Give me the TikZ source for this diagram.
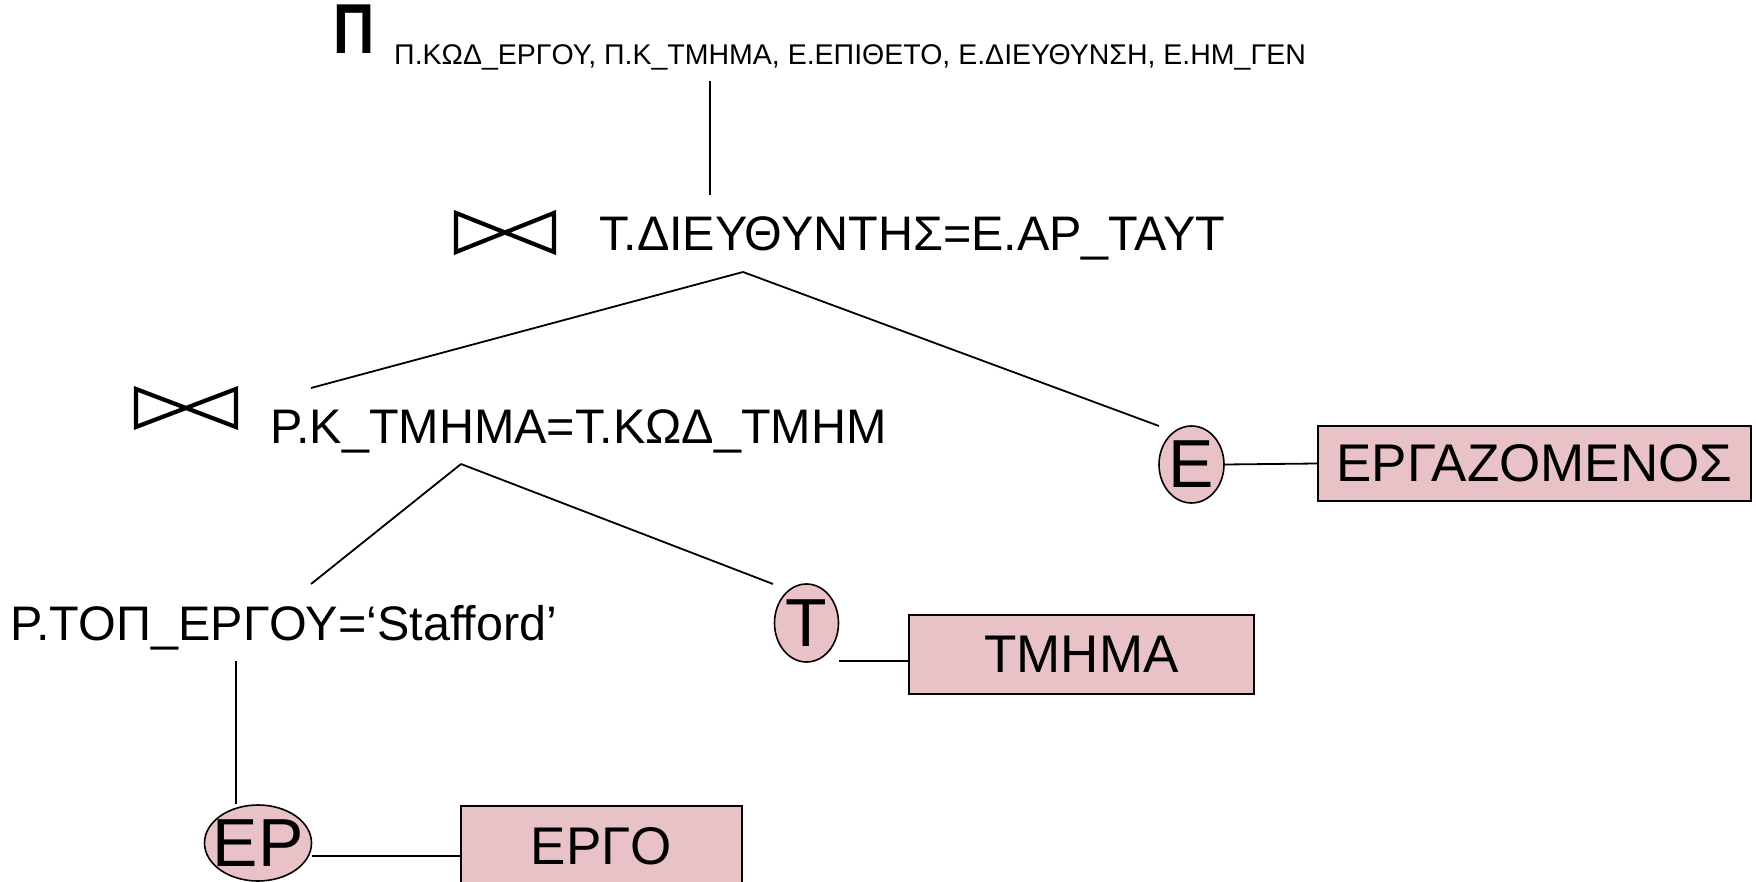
\documentclass[tikz,border=0pt]{standalone}
\usepackage{fontspec}
\setmainfont{Liberation Sans}
\usetikzlibrary{shapes.geometric}
\definecolor{relfill}{RGB}{232,194,198}
\tikzset{
  link/.style={line width=1.8pt},
  bowtie/.style={line width=4.2pt, line join=miter},
  optext/.style={inner sep=0pt, anchor=base west, font=\fontsize{48.5}{56}\selectfont},
  alias/.style={draw, ellipse, fill=relfill, line width=1.6pt, inner sep=0pt,
                inner xsep=-40pt, inner ysep=-20pt,
                font=\fontsize{68}{70}\selectfont},
  relbox/.style={draw, rectangle, fill=relfill, line width=2pt, inner sep=0pt,
                 font=\fontsize{53}{60}\selectfont}
}
\begin{document}
\begin{tikzpicture}[x=1pt,y=-1pt]
\useasboundingbox (0,0) rectangle (1756,882);

% projection
\node[inner sep=0pt, anchor=base west, font=\bfseries\fontsize{62}{64}\selectfont] (pi) at (333,54)
  {\scalebox{0.92}[1.14]{Π}};
\node[inner sep=0pt, anchor=base west, font=\fontsize{28.5}{30}\selectfont] (proj) at (394,65)
  {Π.ΚΩΔ\_ΕΡΓΟΥ, Π.Κ\_ΤΜΗΜΑ, Ε.ΕΠΙΘΕΤΟ, Ε.ΔΙΕΥΘΥΝΣΗ, Ε.ΗΜ\_ΓΕΝ};

% first join
\draw[bowtie] (456,213) -- (554,252) -- (554,213) -- (456,252) -- cycle;
\node[optext] (join1) at (599,251) {Τ.ΔΙΕΥΘΥΝΤΗΣ=Ε.ΑΡ\_ΤΑΥΤ};

% second join
\draw[bowtie] (136,389) -- (236,427) -- (236,389) -- (136,427) -- cycle;
\node[optext] (join2) at (270,443) {Ρ.Κ\_ΤΜΗΜΑ=Τ.ΚΩΔ\_ΤΜΗΜ};

% selection
\node[optext] (sel) at (10,640) {Ρ.ΤΟΠ\_ΕΡΓΟΥ=‘Stafford’};

% relation aliases
\node[alias, minimum width=65pt, minimum height=77pt] (e) at (1191.5,464.5) {Ε};
\node[alias, minimum width=64pt, minimum height=78pt] (t) at (806.5,623) {Τ};
\node[alias, minimum width=107pt, minimum height=76pt] (ep) at (258,843) {ΕΡ};

% base relations
\node[relbox, minimum width=433pt, minimum height=75pt] (emp) at (1534.5,463.5) {ΕΡΓΑΖΟΜΕΝΟΣ};
\node[relbox, minimum width=345pt, minimum height=79pt] (dep) at (1081.5,654.5) {ΤΜΗΜΑ};
\node[relbox, minimum width=281pt, minimum height=80pt] (prj) at (601.5,846) {ΕΡΓΟ};

% connector end points
\coordinate (projdown) at (710,81);
\coordinate (j1up) at (710,195);
\coordinate (j1down) at (743,272);
\coordinate (j2up) at (311,388);
\coordinate (eup) at (1159,426);
\coordinate (j2down) at (461,464);
\coordinate (selup) at (311,584);
\coordinate (tup) at (773,584);
\coordinate (seldown) at (236,661);
\coordinate (tlink) at (839,661);

% tree edges
\draw[link] (projdown) -- (j1up);
\draw[link] (j1down) -- (j2up);
\draw[link] (j1down) -- (eup);
\draw[link] (j2down) -- (selup);
\draw[link] (j2down) -- (tup);
\draw[link] (seldown) -- (ep.north -| seldown);

% alias to relation
\draw[link] (e.east) -- (emp.west);
\draw[link] (tlink) -- (tlink -| dep.west);
\draw[link] ([yshift=-13pt]ep.east) -- ([yshift=-13pt]ep.east -| prj.west);
\end{tikzpicture}
\end{document}
